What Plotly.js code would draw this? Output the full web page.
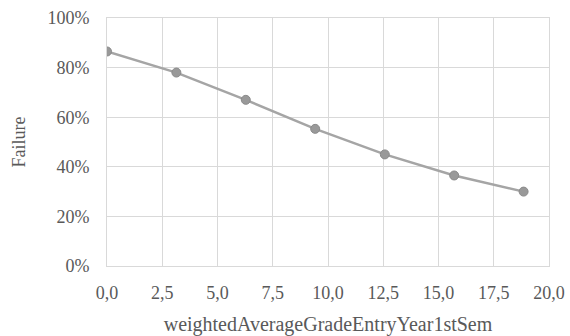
<!DOCTYPE html>
<html>
<head>
<meta charset="utf-8">
<script src="https://cdn.plot.ly/plotly-3.0.1.min.js"></script>
<style>html,body{margin:0;padding:0;background:#fff;}#chart{width:570px;height:336px;}</style>
</head>
<body>
<div id="chart"></div>
<script>
const xValues = [0, 3.14, 6.28, 9.42, 12.57, 15.71, 18.85];
const failureRate = [0.865, 0.78, 0.67, 0.553, 0.45, 0.365, 0.30];
const xTitle = 'weightedAverageGradeEntryYear1stSem';
const yTitle = 'Failure';

function mkFont(s) { return {family: 'Liberation Serif, Times New Roman, DejaVu Serif, serif', size: s, color: '#595959'}; }

Plotly.newPlot('chart', [{
  x: xValues,
  y: failureRate,
  type: 'scatter',
  mode: 'lines+markers',
  line: {color: '#a5a5a5', width: 2.5},
  marker: {color: '#999999', size: 9, line: {color: '#8a8a8a', width: 1}},
  hoverinfo: 'none'
}], {
  width: 570, height: 336,
  margin: {l: 107, r: 21, t: 18, b: 70},
  paper_bgcolor: '#fff', plot_bgcolor: '#fff',
  showlegend: false,
  separators: ',.',
  font: mkFont(18),
  xaxis: {
    range: [0, 20], dtick: 2.5, tick0: 0, tickformat: '.1f',
    showgrid: true, gridcolor: '#d9d9d9', gridwidth: 1,
    zeroline: false, showline: true, linecolor: '#d9d9d9', mirror: true,
    ticks: 'outside', ticklen: 10, tickcolor: 'rgba(0,0,0,0)',
    tickfont: mkFont(18),
    title: {text: xTitle, font: mkFont(20), standoff: 15}
  },
  yaxis: {
    range: [0, 1], dtick: 0.2, tick0: 0, tickformat: '.0%',
    showgrid: true, gridcolor: '#d9d9d9', gridwidth: 1,
    zeroline: false, showline: true, linecolor: '#d9d9d9', mirror: true,
    ticks: 'outside', ticklen: 13, tickcolor: 'rgba(0,0,0,0)',
    tickfont: mkFont(18),
    title: {text: yTitle, font: mkFont(18), standoff: 17}
  }
}, {displayModeBar: false, staticPlot: true});
</script>
</body>
</html>
